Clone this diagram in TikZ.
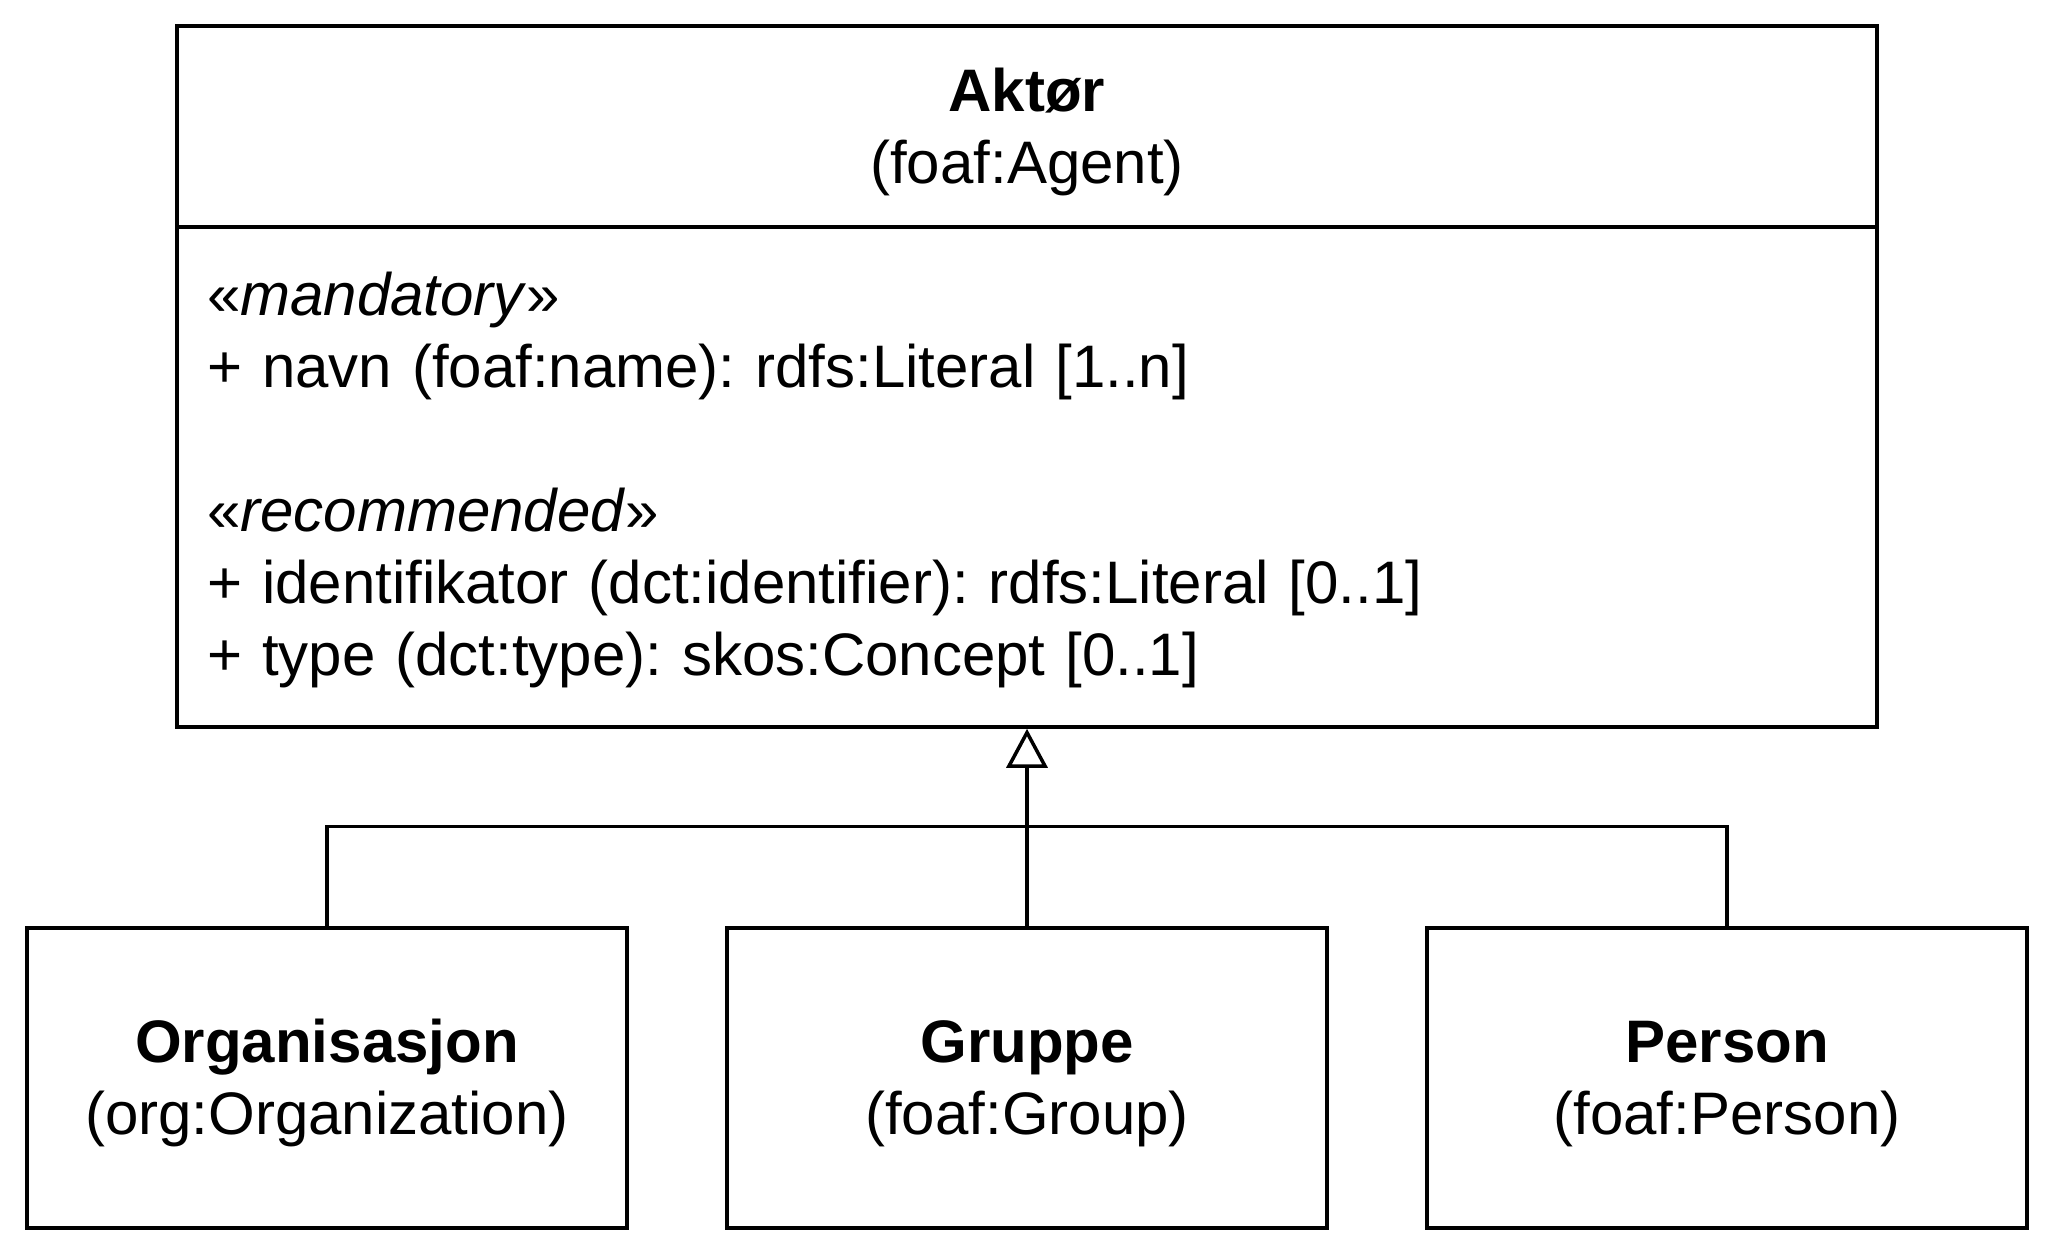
\documentclass[tikz,border=0pt]{standalone}
\usepackage{fontspec}
\setmainfont{Liberation Sans}
\usetikzlibrary{arrows.meta}
\frenchspacing
\newcommand{\umlstrut}{\rule[-0.152cm]{0pt}{0.72cm}}
\newcommand{\umlgap}{\rule[-0.202cm]{0pt}{0pt}}
\tikzstyle{every picture} += [line width=1pt]
\tikzstyle{every node} = [font=\fontsize{17.07pt}{20.49pt}\selectfont, inner sep=0pt]
\tikzstyle{classbox} = [draw, line width=1pt, minimum width=17cm, align=center]
\tikzstyle{subclass} = [draw, line width=1pt, minimum width=6cm, minimum height=3cm, align=center]

\begin{document}
\begin{tikzpicture}
        \useasboundingbox (0,0) rectangle (20.55,-12.55);

        \node[classbox, minimum height=2.01cm] (aktorhead) at (10.27,-1.265) {\umlstrut\textbf{Aktør}\\\umlstrut(foaf:Agent)};
        \node[classbox, minimum height=5cm, text width=16.4cm, inner xsep=0.3cm, align=left, anchor=north] (aktor) at ([yshift=1pt]aktorhead.south) {
            \umlstrut«\textit{mandatory}»\\
            \umlstrut+ navn (foaf:name): rdfs:Literal [1..n]\\
            \umlstrut\\
            \umlstrut«\textit{recommended}»\\
            \umlstrut+ identifikator (dct:identifier): rdfs:Literal [0..1]\\
            \umlstrut+ type (dct:type): skos:Concept [0..1]\umlgap
        };

        \node[subclass] (gruppe) at (10.27,-10.78) {\umlstrut\textbf{Gruppe}\\\umlstrut(foaf:Group)};
        \node[subclass] (org) at ([xshift=-7cm]gruppe) {\umlstrut\textbf{Organisasjon}\\\umlstrut(org:Organization)};
        \node[subclass] (person) at ([xshift=7cm]gruppe) {\umlstrut\textbf{Person}\\\umlstrut(foaf:Person)};

        \coordinate (join) at ([yshift=1cm]gruppe.north);

        \draw[->, >={Triangle[open, length=0.39cm, width=0.41cm]}] (gruppe.north) -- (aktor.south);
        \draw (org.north) |- (join);
        \draw (person.north) |- (join);
    \end{tikzpicture}
\end{document}
